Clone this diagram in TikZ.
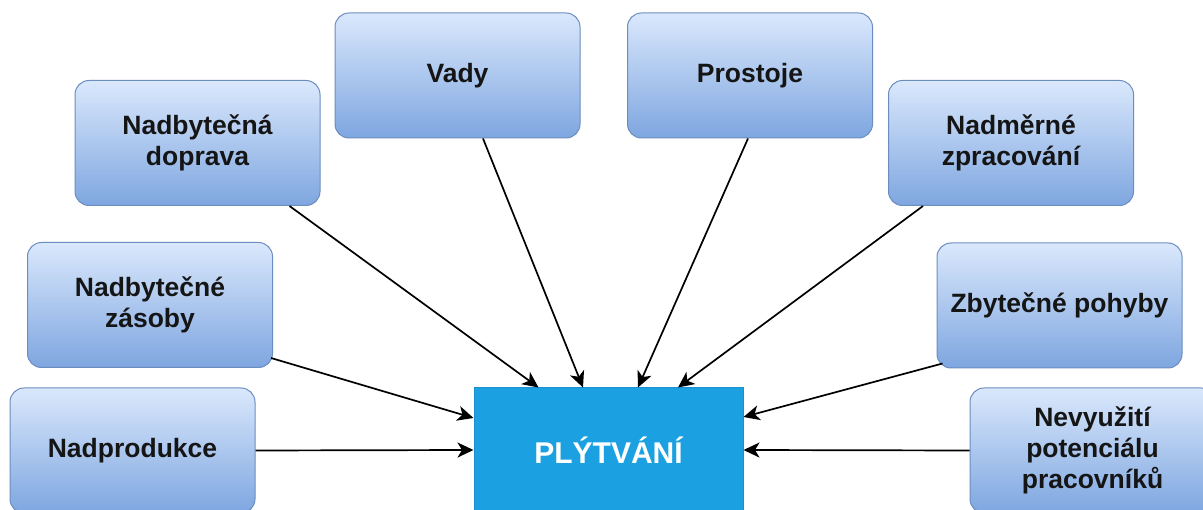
\documentclass[tikz,border=0pt]{standalone}
\usepackage{fontspec}
\setmainfont{Liberation Sans}
\usetikzlibrary{arrows.meta,calc}

\definecolor{boxtop}{HTML}{DAE8FC}
\definecolor{boxbot}{HTML}{7EA6E0}
\definecolor{boxedge}{HTML}{6C8EBF}
\definecolor{hubfill}{HTML}{1BA1E2}
\definecolor{hubedge}{HTML}{1890D0}
\definecolor{txt}{HTML}{151515}

\tikzset{
  waste/.style={draw=boxedge, line width=1pt, rounded corners=14pt,
    top color=boxtop, bottom color=boxbot,
    minimum width=245pt, minimum height=125pt, inner sep=0pt,
    align=center, text=txt, font=\bfseries\fontsize{26.5}{31}\selectfont},
  hub/.style={draw=hubedge, line width=1pt, fill=hubfill,
    minimum width=269pt, minimum height=124pt, inner sep=0pt,
    text=white, font=\bfseries\fontsize{30}{34}\selectfont},
  arr/.style={draw=black, line width=1.7pt,
    -{Stealth[length=16pt,width=15pt,inset=4.5pt]}}
}

\begin{document}
\begin{tikzpicture}[x=1pt,y=-1pt]
  \clip (0,0) rectangle (1203,510);
  \fill[white] (0,0) rectangle (1203,510);

  % the eight kinds of waste
  \node[waste] (vady)     at (457.5,75.5)  {Vady};
  \node[waste] (prostoje) at (750,75.5)    {Prostoje};
  \node[waste] (doprava)  at (197.5,143)   {Nadbytečná\\doprava};
  \node[waste] (zprac)    at (1011,143)    {Nadměrné\\zpracování};
  \node[waste] (zasoby)   at (150,305)     {Nadbytečné\\zásoby};
  \node[waste] (pohyby)   at (1059.5,305.5){Zbytečné pohyby};
  \node[waste] (nadprod)  at (132.5,450.5) {Nadprodukce};
  \node[waste] (nevyuz)   at (1092.5,450.5){Nevyužití\\potenciálu\\pracovníků};

  % central node
  \node[hub] (plyt) at (608.5,450) {PLÝTVÁNÍ};

  % connectors
  \draw[arr] ($(doprava.south)+(92,0)$)   -- ($(plyt.north)+(-70,0)$);
  \draw[arr] ($(vady.south)+(25.5,0)$)    -- ($(plyt.north)+(-25.5,0)$);
  \draw[arr] ($(prostoje.south)+(-2,0)$)  -- ($(plyt.north)+(29.5,0)$);
  \draw[arr] ($(zprac.south)+(-88,0)$)    -- ($(plyt.north)+(69.5,0)$);
  \draw[arr] ($(zasoby.south east)+(-2,-10)$) -- ($(plyt.west)+(0,-32)$);
  \draw[arr] ($(pohyby.south west)+(6,-5)$)   -- ($(plyt.east)+(0,-33)$);
  \draw[arr] (nadprod.east) -- (plyt.west);
  \draw[arr] (nevyuz.west)  -- (plyt.east);
\end{tikzpicture}
\end{document}
